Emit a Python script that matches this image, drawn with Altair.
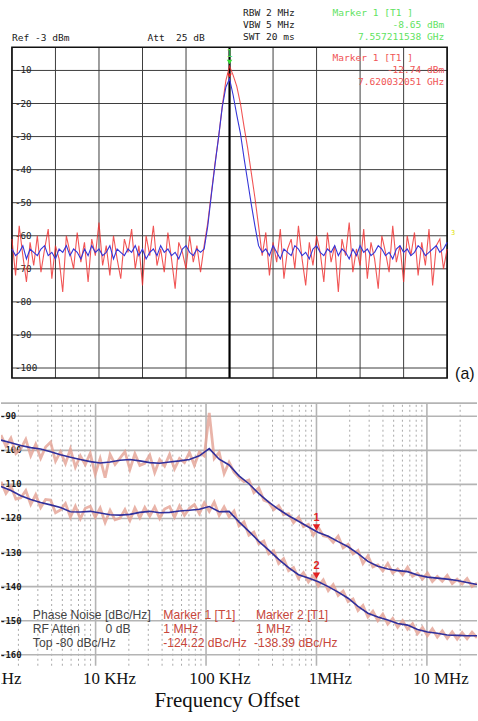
import altair as alt
import pandas as pd

# ================= (a) spectrum analyzer display =================
# sweep samples across 10 divisions (values in dBm)
red_noise_left = [
    -61, -72, -57, -66, -74, -62, -69, -60, -71, -64,
    -58, -73, -63, -67, -77, -60, -65, -70, -59, -68,
    -62, -74, -61, -66, -56, -69, -63, -72, -60, -67,
    -73, -61, -65, -58, -70, -63, -75, -60, -66, -57,
    -69, -64, -71, -59, -67, -76, -62, -65, -70, -60,
    -68, -63, -71,
]
red_peak = [-63, -56, -47, -38, -30, -20.7, -13, -8.7,
            -11.5, -14.8, -20, -27, -33.5, -41, -48.5, -57]
red_noise_right = [
    -66, -59, -72, -62, -68, -58, -73, -64, -61, -70,
    -57, -67, -75, -62, -69, -60, -65, -74, -59, -68,
    -63, -77, -61, -66, -56, -71, -64, -69, -58, -73,
    -62, -67, -76, -60, -65, -71, -57, -68, -63, -74,
    -60, -66, -59, -72, -62, -69, -58, -75, -63, -61,
    -70, -64,
]
blue_noise_left = [
    -64, -66, -65, -63, -67, -64, -65, -66, -64, -63,
    -66, -65, -67, -64, -65, -63, -66, -64, -65, -67,
    -64, -66, -63, -65, -64, -66, -65, -63, -67, -64,
    -65, -66, -64, -65, -63, -66, -64, -67, -65, -64,
    -66, -63, -65, -64, -66, -65, -67, -64, -63, -65,
    -66, -64, -65,
]
blue_peak = [-64, -57, -47.5, -38.5, -30, -21, -15, -12.5,
             -17.5, -23.5, -29, -36.5, -43.5, -50.5, -57, -63]
blue_noise_right = [
    -65, -64, -66, -63, -65, -67, -64, -65, -66, -63,
    -64, -66, -65, -67, -64, -63, -65, -66, -64, -65,
    -63, -66, -64, -65, -67, -64, -66, -63, -65, -64,
    -66, -65, -63, -64, -66, -65, -67, -64, -63, -65,
    -64, -66, -65, -63, -64, -66, -65, -64, -63, -65,
    -64, -62,
]
red_trace = red_noise_left + red_peak + red_noise_right
blue_trace = blue_noise_left + blue_peak + blue_noise_right

top_divisions = list(range(11))
top_levels = [-10, -20, -30, -40, -50, -60, -70, -80, -90, -100]
top_level_labels = ["-10", "-20", "-30", "-40", "-50", "-60", "-70", "-80", "-90", "-100"]
ref_level, bottom_level = -3, -103
marker_green = -8.65
marker_red = -12.74

# ================= (b) phase noise plot =================
blue_upper = [
    -97.0, -97.8, -98.6, -99.2, -99.6, -100.4, -101.3, -102.0, -102.7, -103.3,
    -103.7, -103.4, -102.9, -102.7, -103.1, -103.6, -103.8, -103.4, -103.1, -102.7,
    -101.6, -99.5, -102.6, -104.3, -107.5, -109.8, -112.7, -115.2, -117.3, -119.2,
    -120.8, -122.5, -124.1, -125.2, -126.8, -128.3, -130.3, -132.6, -134.0, -134.8,
    -135.3, -135.6, -136.6, -137.2, -137.5, -137.8, -138.2, -138.8, -139.4,
]
blue_lower = [
    -110.6, -111.8, -113.3, -114.4, -115.3, -116.0, -116.8, -118.0, -118.1, -117.9,
    -118.4, -118.9, -119.0, -118.8, -118.2, -117.9, -118.3, -118.2, -117.8, -117.6,
    -117.3, -116.5, -118.0, -117.9, -121.0, -123.8, -126.7, -129.3, -132.0, -134.4,
    -136.5, -137.5, -138.6, -140.0, -141.6, -143.4, -145.8, -147.8, -148.9, -149.8,
    -150.8, -151.3, -152.6, -153.3, -153.7, -154.2, -154.3, -154.4, -154.4,
]
pink_upper = [
    -95.5, -98.8, -96.4, -100.9, -99.5, -96.8, -101.6, -98.2, -102.3, -99.0,
    -97.6, -103.2, -100.4, -103.9, -99.6, -104.9, -101.6, -104.2, -100.9, -107.0,
    -102.4, -108.0, -101.2, -104.1, -102.3, -100.4, -105.6, -101.0, -104.4, -103.8,
    -101.4, -106.5, -102.7, -104.6, -101.2, -105.4, -102.4, -103.6, -100.6, -104.4,
    -100.5, -101.6, -89.0, -102.4, -100.6, -106.8, -103.5, -106.4, -108.0, -109.2,
    -108.7, -112.4, -111.0, -114.6, -115.2, -117.4, -116.2, -118.8, -118.6, -121.2,
    -119.6, -122.4, -121.7, -124.9, -122.6, -125.1, -125.4, -127.0, -125.2, -128.6,
    -127.6, -130.4, -129.4, -133.2, -131.0, -134.2, -133.6, -135.4, -133.2, -136.0,
    -134.8, -136.5, -134.3, -137.0, -136.1, -137.8, -136.0, -138.5, -137.0, -138.4,
    -136.7, -139.1, -137.8, -139.2, -137.6, -140.0, -139.0,
]
pink_lower = [
    -109.2, -112.6, -110.5, -114.3, -113.9, -111.8, -115.9, -113.0, -116.8, -114.4,
    -114.6, -118.3, -117.5, -115.6, -119.6, -116.4, -120.1, -117.0, -116.4, -119.6,
    -116.9, -121.2, -117.6, -120.4, -119.9, -117.4, -120.6, -116.9, -119.8, -116.8,
    -119.3, -116.6, -120.0, -117.2, -116.5, -119.6, -116.3, -119.1, -117.0, -115.9,
    -118.6, -115.4, -117.9, -115.2, -119.1, -116.6, -119.5, -117.8, -122.2, -121.0,
    -124.9, -124.0, -127.4, -126.6, -130.4, -129.5, -133.2, -131.8, -135.3, -134.4,
    -137.6, -135.9, -138.6, -136.7, -139.8, -138.0, -141.2, -139.4, -142.6, -141.3,
    -144.4, -143.6, -147.0, -145.5, -148.9, -147.2, -150.0, -148.1, -151.0, -149.3,
    -151.9, -150.0, -152.5, -150.9, -153.8, -152.0, -154.4, -152.4, -154.8, -153.0,
    -155.2, -153.3, -155.4, -153.5, -155.3, -153.4, -155.0,
]
f_start, f_stop = 1391.0, 2.842e7
bot_levels = [-90, -100, -110, -120, -130, -140, -150, -160]
bot_level_labels = ["-90", "-100", "-110", "-120", "-130", "-140", "-150", "-160"]
bot_major_freqs = [1e4, 1e5, 1e6, 1e7]
bot_xtick_freqs = [1e3, 1e4, 1e5, 1e6, 1e7]
bot_xtick_labels = ["1 KHz", "10 KHz", "100 KHz", "1MHz", "10 MHz"]
bot_top, bot_bottom = -86.14, -163.22
marker1_db, marker2_db, marker_freq = -124.22, -138.39, 1e6

# ---------------------------------------------------------------
W, H1, H2 = 478, 390, 331
ONE = pd.DataFrame({"a": [0]})
NB = "\u00a0"


def label(s, x, y, color="#222222", size=9.6, font="DejaVu Sans Mono",
          align="left", weight="normal"):
    return alt.Chart(ONE).mark_text(
        text=s, align=align, baseline="middle", font=font, fontSize=size,
        color=color, fontWeight=weight, clip=True
    ).encode(x=alt.value(x), y=alt.value(y))


# ---------------- top panel ----------------
xs_t = alt.Scale(domain=[-0.2517, 10.6865], nice=False, zero=False)
ys_t = alt.Scale(domain=[-106.614, 10.855], nice=False, zero=False)


def XT(f):
    return alt.X(f"{f}:Q", scale=xs_t, axis=None)


def YT(f):
    return alt.Y(f"{f}:Q", scale=ys_t, axis=None)


n_r = len(red_trace)
n_b = len(blue_trace)
df_red = pd.DataFrame({"div": [i * 10 / (n_r - 1) for i in range(n_r)], "dbm": red_trace})
df_blue = pd.DataFrame({"div": [i * 10 / (n_b - 1) for i in range(n_b)], "dbm": blue_trace})

df_vgrid = pd.DataFrame({"div": top_divisions, "lo": bottom_level, "hi": ref_level})
df_hgrid = pd.DataFrame({"lvl": top_levels, "x0": 0, "x1": 10, "lab": top_level_labels})
df_frame = pd.DataFrame({"x0": [0], "x1": [10], "y0": [ref_level], "y1": [bottom_level]})
df_center = pd.DataFrame({"div": [5], "lo": [bottom_level], "hi": [ref_level]})
df_mg = pd.DataFrame({"div": [5], "dbm": [marker_green]})
df_mr = pd.DataFrame({"div": [5], "dbm": [marker_red]})

grid_col = "#3c3c3c"
top_layers = [
    alt.Chart(df_hgrid).mark_rule(color=grid_col, strokeWidth=1).encode(
        y=YT("lvl"), x=XT("x0"), x2="x1"),
    alt.Chart(df_vgrid).mark_rule(color=grid_col, strokeWidth=1).encode(
        x=XT("div"), y=YT("lo"), y2="hi"),
    alt.Chart(df_center).mark_rule(color="#000000", strokeWidth=2.2).encode(
        x=XT("div"), y=YT("lo"), y2="hi"),
    alt.Chart(df_frame).mark_rect(fillOpacity=0, stroke="#111111", strokeWidth=1.6).encode(
        x=XT("x0"), x2="x1", y=YT("y0"), y2="y1"),
    alt.Chart(df_hgrid).mark_text(align="left", baseline="middle", font="DejaVu Sans Mono",
                                  fontSize=9.3, color="#222222").encode(
        y=YT("lvl"), x=alt.value(14), text="lab:N"),
    alt.Chart(df_red).mark_line(color="#ee2a2a", strokeWidth=1.1, opacity=0.8, clip=True).encode(
        x=XT("div"), y=YT("dbm")),
    alt.Chart(df_blue).mark_line(color="#3535d8", strokeWidth=1.1, clip=True).encode(
        x=XT("div"), y=YT("dbm")),
    alt.Chart(df_mg).mark_point(shape="triangle-down", filled=True, size=30, color="#33dd33",
                                opacity=1, yOffset=-4).encode(x=XT("div"), y=YT("dbm")),
    alt.Chart(df_mg).mark_text(text="1", color="#55dd55", fontSize=10, font="DejaVu Sans Mono",
                               dy=-12).encode(x=XT("div"), y=YT("dbm")),
    alt.Chart(df_mr).mark_point(shape="triangle-down", filled=True, size=22, color="#e52020",
                                opacity=1, yOffset=-4).encode(x=XT("div"), y=YT("dbm")),
    label("Ref -3 dBm", 11, 37),
    label("Att" + NB + NB + "25 dB", 147, 37),
    label("RBW 2 MHz", 243, 12),
    label("VBW 5 MHz", 243, 24),
    label("SWT 20 ms", 243, 36),
    label("Marker 1 [T1 ]", 333, 12, color="#5fe35f"),
    label("-8.65 dBm", 445, 24, color="#5fe35f", align="right"),
    label("7.557211538 GHz", 445, 36, color="#5fe35f", align="right"),
    label("Marker 1 [T1 ]", 333, 57, color="#f05555"),
    label("-12.74 dBm", 445, 69, color="#f05555", align="right"),
    label("7.620032051 GHz", 445, 81, color="#f05555", align="right"),
    label("3", 452, 232, color="#e2e200", size=7),
    label("(a)", 456, 374, color="#111111", size=16, font="Liberation Sans"),
]
top = alt.layer(*top_layers).properties(width=W, height=H1)

# ---------------- bottom panel ----------------
xs_b = alt.Scale(type="log", domain=[f_start, f_stop], nice=False)
ys_b = alt.Scale(domain=[-179.0, -82.25], nice=False, zero=False)


def XB(f):
    return alt.X(f"{f}:Q", scale=xs_b, axis=None)


def YB(f):
    return alt.Y(f"{f}:Q", scale=ys_b, axis=None)


def sweep(n):
    return [f_start * (f_stop / f_start) ** (i / (n - 1)) for i in range(n)]


df_pu = pd.DataFrame({"f": sweep(len(pink_upper)), "db": pink_upper})
df_pl = pd.DataFrame({"f": sweep(len(pink_lower)), "db": pink_lower})
df_bu = pd.DataFrame({"f": sweep(len(blue_upper)), "db": blue_upper})
df_bl = pd.DataFrame({"f": sweep(len(blue_lower)), "db": blue_lower})

minor_freqs = [k * 10 ** e for e in range(3, 8) for k in range(2, 10)
               if f_start < k * 10 ** e < f_stop]
df_minor = pd.DataFrame({"f": minor_freqs, "lo": bot_bottom, "hi": bot_top})
df_major = pd.DataFrame({"f": bot_major_freqs, "lo": bot_bottom, "hi": bot_top})
df_hg = pd.DataFrame({"lvl": bot_levels + [bot_top], "f0": f_start, "f1": f_stop})
df_ylab = pd.DataFrame({"lvl": bot_levels, "lab": bot_level_labels})
df_xlab = pd.DataFrame({"f": bot_xtick_freqs, "lab": bot_xtick_labels})
df_m1 = pd.DataFrame({"f": [marker_freq], "db": [marker1_db], "n": ["1"]})
df_m2 = pd.DataFrame({"f": [marker_freq], "db": [marker2_db], "n": ["2"]})

g2 = "#b4b4b4"
red_txt = "#c8473b"
pink = "#e3a193"
bot_layers = [
    alt.Chart(df_minor).mark_rule(color="#a8a8a8", strokeWidth=1, strokeDash=[2, 3]).encode(
        x=XB("f"), y=YB("lo"), y2="hi"),
    alt.Chart(df_major).mark_rule(color=g2, strokeWidth=1.6).encode(
        x=XB("f"), y=YB("lo"), y2="hi"),
    alt.Chart(df_hg).mark_rule(color=g2, strokeWidth=1.6).encode(
        y=YB("lvl"), x=XB("f0"), x2="f1"),
    alt.Chart(df_ylab).mark_text(align="left", baseline="middle", font="DejaVu Sans Mono",
                                 fontWeight="bold", fontSize=9, color="#1a1a1a", clip=True).encode(
        y=YB("lvl"), x=alt.value(-1), text="lab:N"),
    alt.Chart(df_pu).mark_line(color=pink, strokeWidth=2.8, opacity=0.8, clip=True).encode(
        x=XB("f"), y=YB("db")),
    alt.Chart(df_pl).mark_line(color=pink, strokeWidth=2.8, opacity=0.8, clip=True).encode(
        x=XB("f"), y=YB("db")),
    alt.Chart(df_bu).mark_line(color="#2f2f9c", strokeWidth=1.6, clip=True).encode(
        x=XB("f"), y=YB("db")),
    alt.Chart(df_bl).mark_line(color="#2f2f9c", strokeWidth=1.6, clip=True).encode(
        x=XB("f"), y=YB("db")),
]
for dfm in (df_m1, df_m2):
    bot_layers.append(alt.Chart(dfm).mark_point(
        shape="triangle-down", filled=True, size=55, color="#e21f1f", opacity=1,
        yOffset=-5.5).encode(x=XB("f"), y=YB("db")))
    bot_layers.append(alt.Chart(dfm).mark_text(
        color="#e21f1f", fontSize=11, fontWeight="bold", font="Liberation Sans",
        dy=-15).encode(x=XB("f"), y=YB("db"), text="n:N"))
lg = 12.2
bot_layers += [
    alt.Chart(df_xlab).mark_text(font="Liberation Serif", fontSize=17, color="#111111",
                                 baseline="middle", dx=14, clip=True).encode(
        x=XB("f"), y=alt.value(290), text="lab:N"),
    label("Frequency Offset", 227, 312, color="#111111", size=21, font="Liberation Serif",
          align="center"),
    label("Phase Noise [dBc/Hz]", 32, 226.5, color="#444444", size=lg, font="Liberation Sans"),
    label("RF Atten", 32, 240.5, color="#444444", size=lg, font="Liberation Sans"),
    label("0 dB", 105, 240.5, color="#444444", size=lg, font="Liberation Sans"),
    label("Top -80 dBc/Hz", 32, 254.5, color="#444444", size=lg, font="Liberation Sans"),
    label("Marker 1 [T1]", 163, 226.5, color=red_txt, size=lg, font="Liberation Sans"),
    label("1 MHz", 163, 240.5, color=red_txt, size=lg, font="Liberation Sans"),
    label("-124.22 dBc/Hz", 163, 254.5, color=red_txt, size=lg, font="Liberation Sans"),
    label("Marker 2 [T1]", 256, 226.5, color=red_txt, size=lg, font="Liberation Sans"),
    label("1 MHz", 256, 240.5, color=red_txt, size=lg, font="Liberation Sans"),
    label("-138.39 dBc/Hz", 254, 254.5, color=red_txt, size=lg, font="Liberation Sans"),
]
bottom = alt.layer(*bot_layers).properties(width=W, height=H2)

chart = alt.vconcat(top, bottom, spacing=0).properties(
    padding=0, background="white"
).configure_view(stroke=None)

chart.save("out.html", embed_options={"renderer": "svg", "actions": False})
